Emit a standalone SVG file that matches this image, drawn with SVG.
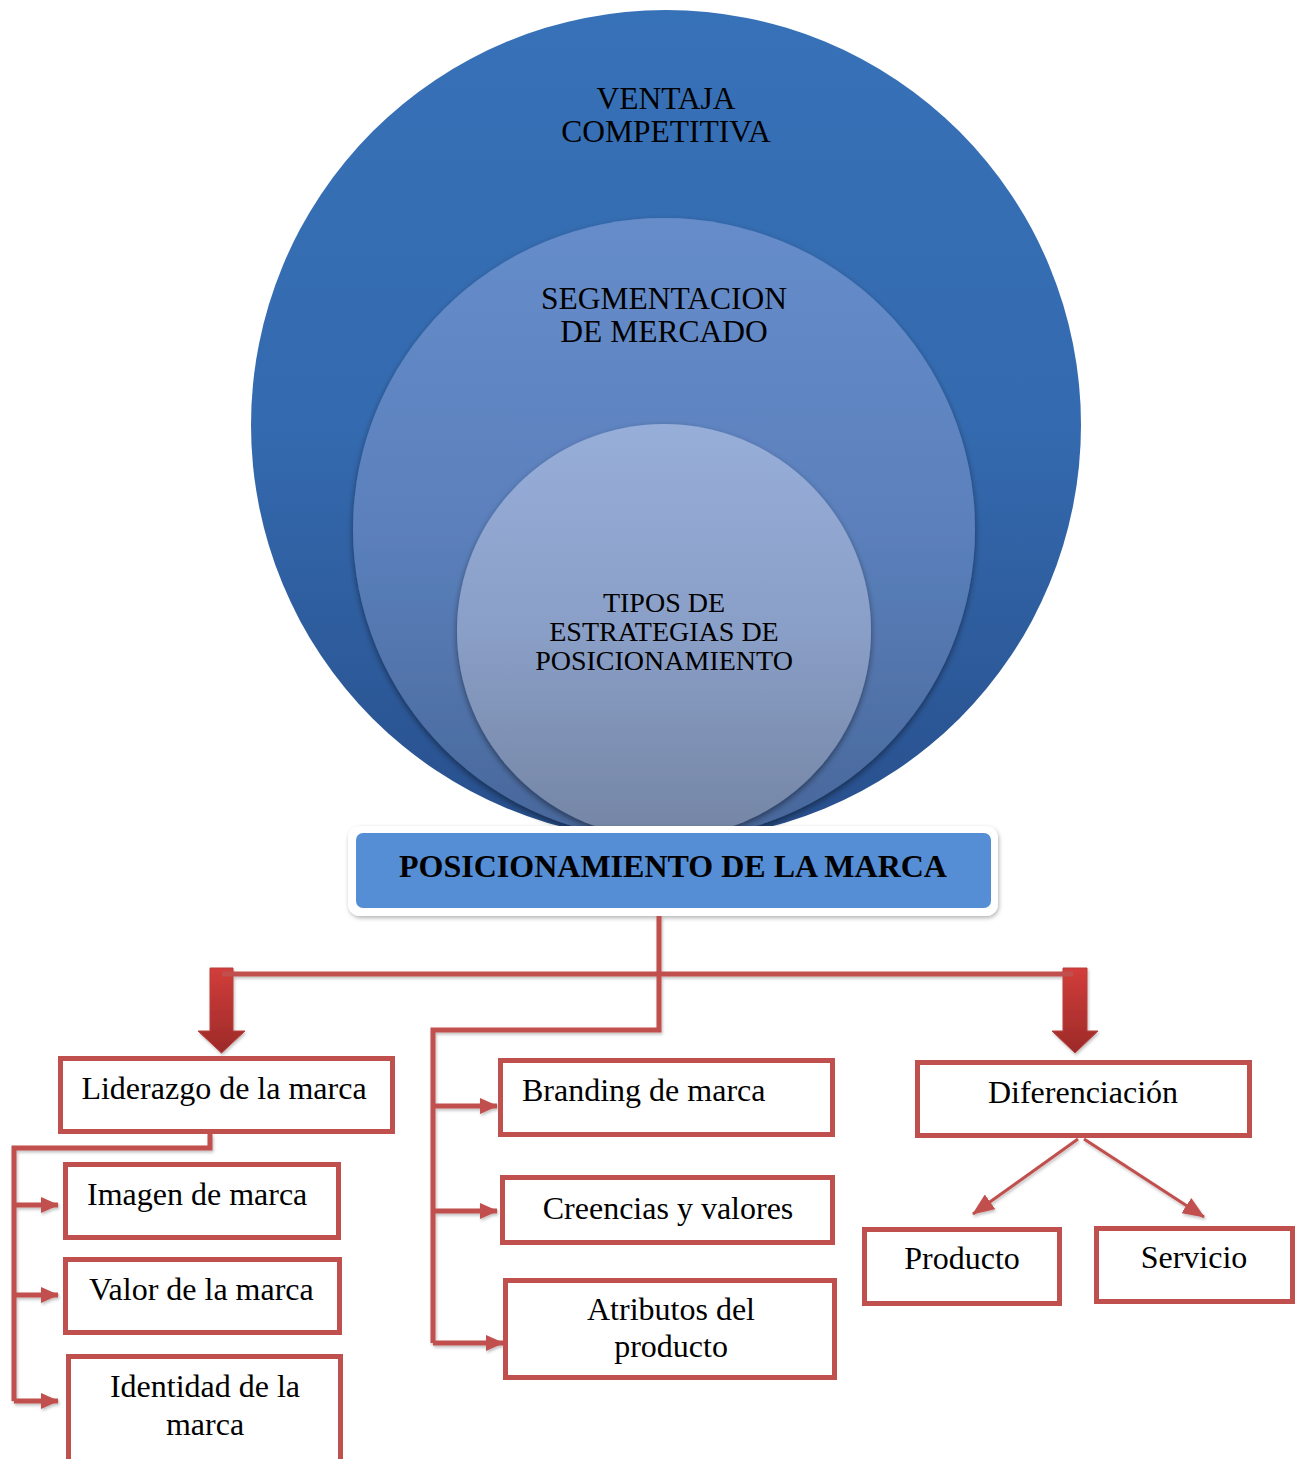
<svg xmlns="http://www.w3.org/2000/svg" width="1301" height="1459" viewBox="0 0 1301 1459">
<style>
.lbl{font-family:"Liberation Serif","Times New Roman",serif;fill:#000;}
.bx{font-size:32px;}
.box{fill:#fff;stroke:#c0504d;stroke-width:5;}
.con{fill:none;stroke:#c0504d;stroke-width:5;}
.thin{fill:none;stroke:#c0504d;stroke-width:3;}
</style>
<defs>
<linearGradient id="gOuter" x1="0" y1="0" x2="0" y2="1"><stop offset="0" stop-color="#3771b7"/><stop offset="0.5" stop-color="#346aaf"/><stop offset="1" stop-color="#284f8c"/></linearGradient>
<linearGradient id="gMid" x1="0" y1="0" x2="0" y2="1"><stop offset="0" stop-color="#668dca"/><stop offset="0.5" stop-color="#5b80bc"/><stop offset="1" stop-color="#48679a"/></linearGradient>
<linearGradient id="gIn" x1="0" y1="0" x2="0" y2="1"><stop offset="0" stop-color="#97aed9"/><stop offset="0.5" stop-color="#8a9fc7"/><stop offset="1" stop-color="#7485a4"/></linearGradient>
<linearGradient id="gArrow" x1="0" y1="0" x2="0" y2="1"><stop offset="0" stop-color="#d23d3b"/><stop offset="1" stop-color="#9c2a28"/></linearGradient>
<filter id="sh" x="-10%" y="-10%" width="120%" height="120%"><feDropShadow dx="0" dy="3" stdDeviation="3" flood-color="#000" flood-opacity="0.45"/></filter>
<filter id="sh2" x="-10%" y="-30%" width="120%" height="160%"><feDropShadow dx="1" dy="2" stdDeviation="2" flood-color="#000" flood-opacity="0.3"/></filter>
<filter id="sh3" x="-5%" y="-5%" width="110%" height="110%"><feDropShadow dx="1" dy="2" stdDeviation="1.5" flood-color="#000" flood-opacity="0.25"/></filter>
<marker id="ah" markerUnits="userSpaceOnUse" markerWidth="18" markerHeight="16" refX="17" refY="8" orient="auto"><path d="M0,0 L18,8 L0,16 z" fill="#c0504d"/></marker>
<marker id="ah2" markerUnits="userSpaceOnUse" markerWidth="22" markerHeight="18" refX="21" refY="9" orient="auto"><path d="M0,0 L22,9 L0,18 z" fill="#c0504d"/></marker>
<clipPath id="clipTop"><rect x="0" y="0" width="1301" height="826"/></clipPath>
</defs>

<g id="circles" clip-path="url(#clipTop)">
<g id="node-ventaja">
<circle cx="666" cy="425" r="415" fill="url(#gOuter)"/>
<text class="lbl" x="666" y="109" font-size="31.5" text-anchor="middle">VENTAJA</text>
<text class="lbl" x="666" y="142" font-size="31.5" text-anchor="middle">COMPETITIVA</text>
</g>
<g id="node-segmentacion">
<circle cx="664" cy="529" r="311" fill="url(#gMid)" filter="url(#sh)"/>
<text class="lbl" x="664" y="309" font-size="31.5" text-anchor="middle">SEGMENTACION</text>
<text class="lbl" x="664" y="342" font-size="31.5" text-anchor="middle">DE MERCADO</text>
</g>
<g id="node-tipos">
<circle cx="664" cy="631" r="207" fill="url(#gIn)" filter="url(#sh)"/>
<text class="lbl" x="664" y="612" font-size="28" text-anchor="middle">TIPOS DE</text>
<text class="lbl" x="664" y="641" font-size="28" text-anchor="middle">ESTRATEGIAS DE</text>
<text class="lbl" x="664" y="670" font-size="28" text-anchor="middle">POSICIONAMIENTO</text>
</g>
</g>

<g id="node-posicionamiento">
<rect x="348" y="826" width="650" height="90" rx="12" fill="#fff" filter="url(#sh2)"/>
<rect x="356" y="833" width="635" height="75" rx="7" fill="#558ed5"/>
<text class="lbl" x="673" y="877" font-size="32" font-weight="bold" text-anchor="middle">POSICIONAMIENTO DE LA MARCA</text>
</g>

<g id="connectors" filter="url(#sh3)">
<path d="M210,968 H233 V1031 H245 L221.5,1053 L198,1031 H210 Z" fill="url(#gArrow)" stroke="#b8403d" stroke-width="1"/>
<path d="M1063,968 H1087 V1031 H1098 L1075,1053 L1052,1031 H1063 Z" fill="url(#gArrow)" stroke="#b8403d" stroke-width="1"/>
<path class="con" d="M222,974 H1073"/>
<path class="con" d="M659,916 V1030 H433 V1343"/>
<path class="con" d="M433,1106 H497" marker-end="url(#ah)"/>
<path class="con" d="M433,1211 H497" marker-end="url(#ah)"/>
<path class="con" d="M433,1343 H503" marker-end="url(#ah)"/>
<path class="con" d="M210,1134 V1148 H14 V1401"/>
<path class="con" d="M14,1205 H58" marker-end="url(#ah)"/>
<path class="con" d="M14,1295 H58" marker-end="url(#ah)"/>
<path class="con" d="M14,1401 H58" marker-end="url(#ah)"/>
<path class="thin" d="M1078,1139 L973,1214" marker-end="url(#ah2)"/>
<path class="thin" d="M1084,1139 L1204,1217" marker-end="url(#ah2)"/>
</g>

<g id="node-liderazgo">
<rect class="box" x="60.5" y="1058.5" width="332" height="73"/>
<text class="lbl bx" x="224" y="1099" text-anchor="middle">Liderazgo de la marca</text>
</g>
<g id="node-imagen">
<rect class="box" x="65.5" y="1164.5" width="273" height="73"/>
<text class="lbl bx" x="87" y="1205">Imagen de marca</text>
</g>
<g id="node-valor">
<rect class="box" x="65.5" y="1259.5" width="274" height="73"/>
<text class="lbl bx" x="89" y="1300">Valor de la marca</text>
</g>
<g id="node-identidad">
<rect class="box" x="68.5" y="1356.5" width="272" height="110"/>
<text class="lbl bx" x="205" y="1397" text-anchor="middle">Identidad de la</text>
<text class="lbl bx" x="205" y="1435" text-anchor="middle">marca</text>
</g>
<g id="node-branding">
<rect class="box" x="500.5" y="1060.5" width="332" height="74"/>
<text class="lbl bx" x="522" y="1101">Branding de marca</text>
</g>
<g id="node-creencias">
<rect class="box" x="502.5" y="1177.5" width="330" height="65"/>
<text class="lbl bx" x="668" y="1219" text-anchor="middle">Creencias y valores</text>
</g>
<g id="node-atributos">
<rect class="box" x="505.5" y="1280.5" width="329" height="97"/>
<text class="lbl bx" x="671" y="1320" text-anchor="middle">Atributos del</text>
<text class="lbl bx" x="671" y="1357" text-anchor="middle">producto</text>
</g>
<g id="node-diferenciacion">
<rect class="box" x="917.5" y="1062.5" width="332" height="73"/>
<text class="lbl bx" x="1083" y="1103" text-anchor="middle">Diferenciación</text>
</g>
<g id="node-producto">
<rect class="box" x="864.5" y="1229.5" width="195" height="74"/>
<text class="lbl bx" x="962" y="1269" text-anchor="middle">Producto</text>
</g>
<g id="node-servicio">
<rect class="box" x="1096.5" y="1228.5" width="196" height="73"/>
<text class="lbl bx" x="1194" y="1268" text-anchor="middle">Servicio</text>
</g>
</svg>
